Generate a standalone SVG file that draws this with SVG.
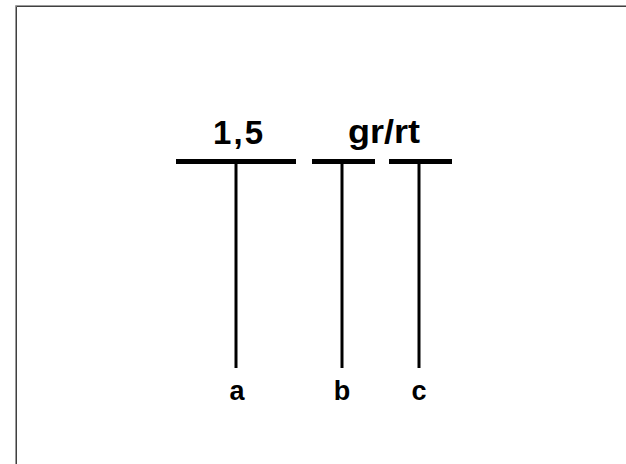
<svg xmlns="http://www.w3.org/2000/svg" width="626" height="464" viewBox="0 0 626 464">
<style>
.bar{stroke:#000;stroke-width:5;fill:none}
.stem{stroke:#000;stroke-width:3;fill:none}
.t{font-family:"Liberation Sans",Arial,sans-serif;font-weight:bold;fill:#000;text-anchor:middle}
.big{font-size:33px}
.lbl{font-size:27px}
</style>
<rect width="626" height="464" fill="#fff"/>
<path d="M15.5 464V5.5H626" stroke="#9a9a9a" stroke-width="1" fill="none"/>
<path d="M16.5 464V6.5H626" stroke="#404040" stroke-width="1" fill="none"/>
<g id="connectors">
<line class="stem" x1="236" y1="161" x2="236" y2="368"/>
<line class="stem" x1="342" y1="161" x2="342" y2="368"/>
<line class="stem" x1="419" y1="161" x2="419" y2="368"/>
</g>
<g id="bar1"><line class="bar" x1="176" y1="161.5" x2="296" y2="161.5"/></g>
<g id="bar2"><line class="bar" x1="312" y1="161.5" x2="375" y2="161.5"/></g>
<g id="bar3"><line class="bar" x1="389" y1="161.5" x2="452" y2="161.5"/></g>
<g id="label-15"><text class="t big" x="238" y="144" textLength="50" lengthAdjust="spacing">1,5</text></g>
<g id="label-grrt"><text class="t big" x="384" y="143" textLength="72" lengthAdjust="spacingAndGlyphs">gr/rt</text></g>
<g id="node-a"><text class="t lbl" x="237" y="400">a</text></g>
<g id="node-b"><text class="t lbl" x="342" y="400">b</text></g>
<g id="node-c"><text class="t lbl" x="419" y="400">c</text></g>
</svg>
